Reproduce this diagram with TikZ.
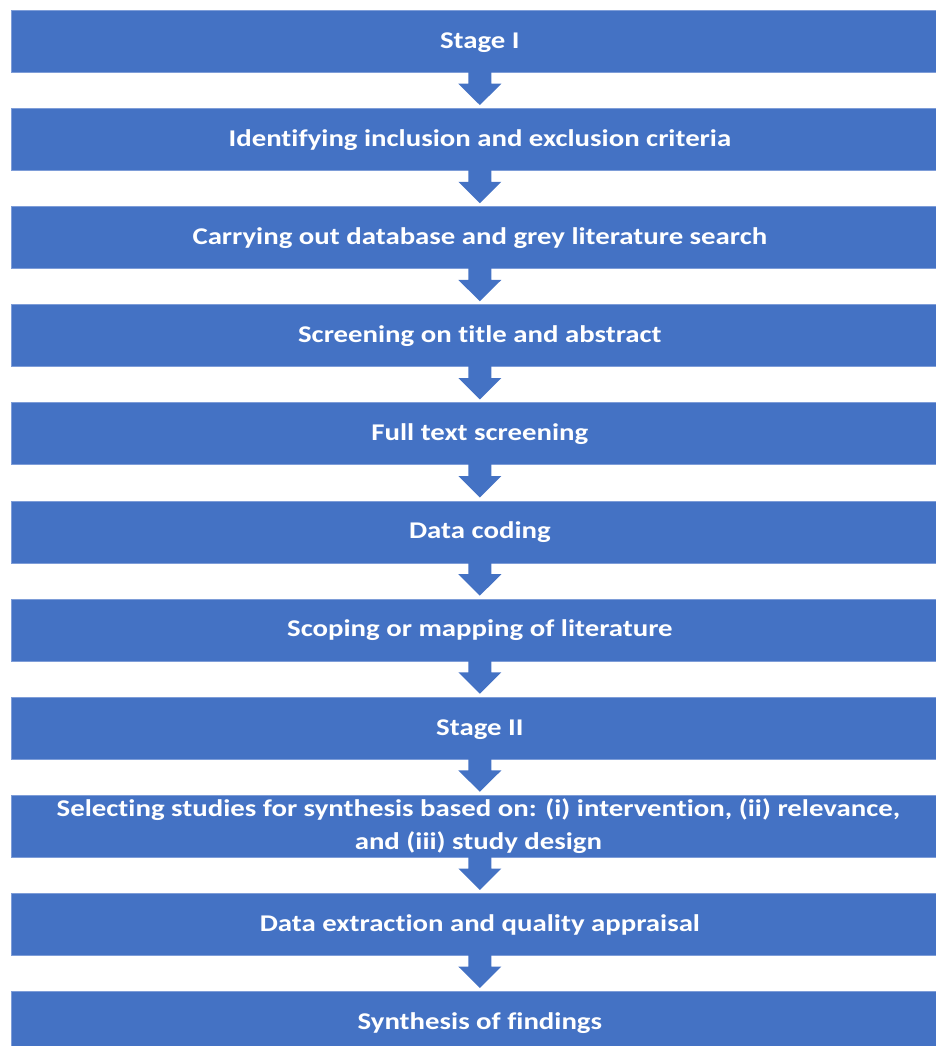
\documentclass[tikz,border=0pt]{standalone}
\usepackage{fontspec}
\setmainfont{Carlito}[FakeStretch=1.2, Ligatures={NoCommon}]
\usetikzlibrary{calc}
\definecolor{boxblue}{HTML}{4472C4}
\definecolor{edgeblue}{HTML}{7E9DD8}
\begin{document}
\begin{tikzpicture}[x=1pt,y=-1pt,
  stagebox/.style={fill=boxblue, draw=edgeblue, line width=0.7pt,
    minimum width=937pt, minimum height=62pt, inner sep=0pt, anchor=north west,
    text=white, font=\fontsize{24}{33}\selectfont\bfseries,
    text height=21pt, text depth=7pt},
  lbl/.style={text=white, font=\fontsize{24}{33}\selectfont\bfseries, inner sep=0pt, align=center},
  arrowfill/.style={fill=boxblue}]
\useasboundingbox (0,0) rectangle (936,1046);
\clip (0,0) rectangle (936,1046);
\node[stagebox] (b0) at (11,10) {Stage I};
\node[stagebox] (b1) at (11,108.1) {Identifying inclusion and exclusion criteria};
\node[stagebox] (b2) at (11,206.2) {Carrying out database and grey literature search};
\node[stagebox] (b3) at (11,304.3) {Screening on title and abstract};
\node[stagebox] (b4) at (11,402.4) {Full text screening};
\node[stagebox] (b5) at (11,500.5) {Data coding};
\node[stagebox] (b6) at (11,598.6) {Scoping or mapping of literature};
\node[stagebox] (b7) at (11,696.7) {Stage II};
\node[stagebox] (b8) at (11,794.8) {};
\node[stagebox] (b9) at (11,892.9) {Data extraction and quality appraisal};
\node[stagebox] (b10) at (11,991) {Synthesis of findings};
\foreach \a/\b in {b0/b1,b1/b2,b2/b3,b3/b4,b4/b5,b5/b6,b6/b7,b7/b8,b8/b9,b9/b10}{
  \fill[arrowfill] ($(\a.south)+(-11.5,-1)$) -- ($(\a.south)+(-11.5,11)$) -- ($(\a.south)+(-21.5,11)$)
    -- ($(\b.north)+(0,-3)$) -- ($(\a.south)+(21.5,11)$) -- ($(\a.south)+(11.5,11)$)
    -- ($(\a.south)+(11.5,-1)$) -- cycle;
}
\node[lbl, anchor=base] (t8) at ($(b8.north)+(-1.5,55)$) {Selecting studies for synthesis based on: (i) intervention, (ii) relevance,\\ and (iii) study design};
\end{tikzpicture}
\end{document}
